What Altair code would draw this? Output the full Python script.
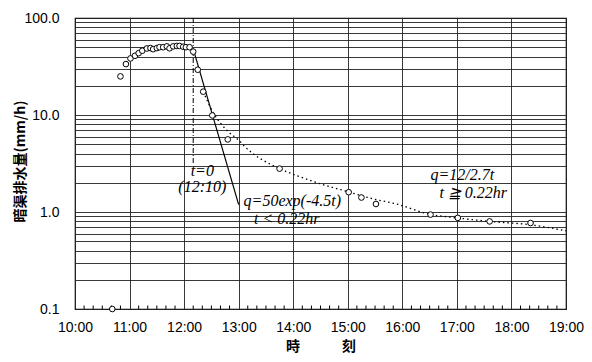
import altair as alt
import pandas as pd

# observed drainage (time, mm/h)
obs_time = ["10:41", "10:50", "10:56", "11:01", "11:06", "11:10", "11:14", "11:19",
            "11:23", "11:26", "11:30", "11:33", "11:37", "11:41", "11:44", "11:48",
            "11:52", "11:55", "11:59", "12:02", "12:06", "12:10", "12:15", "12:21",
            "12:31", "12:48", "13:45", "15:01", "15:15", "15:31", "16:31", "17:01",
            "17:36", "18:21"]
obs_q = [0.1, 25, 33.5, 38.3, 40.8, 43.4, 46, 48.5,
         49, 47.7, 49, 50, 50, 51, 48.7, 51,
         51.5, 51.5, 50.5, 50, 50, 45, 29.3, 17.4,
         9.9, 5.6, 2.8, 1.6, 1.41, 1.21, 0.94, 0.87,
         0.80, 0.77]

# fitted curve q=50exp(-4.5t) (read at its ends)
exp_time = ["12:10", "13:00"]
exp_q = [48, 1.19]

# fitted curve q=12/2.7t
pow_time = ["12:21", "12:31", "12:48", "13:00", "13:06", "13:45", "14:00", "14:30",
            "15:00", "15:30", "15:52", "16:30", "17:00", "17:36", "18:20", "19:00"]
pow_q = [17.4, 11, 6.8, 5.5, 4.8, 2.8, 2.45, 1.95,
         1.62, 1.35, 1.22, 0.95, 0.87, 0.80, 0.74, 0.64]

# t=0 marker
t0_time = ["12:10"]
t0_top = [100]
t0_bottom = [3.2]

# annotations
ann_text = ["t=0", "(12:10)", "q=50exp(-4.5t)", "t < 0.22hr", "q=12/2.7t", "t ≧ 0.22hr"]
ann_time = ["12:20", "12:20", "13:59", "13:53", "17:06", "17:18"]
ann_q = [2.67, 1.79, 1.31, 0.85, 2.41, 1.56]

hour_ticks = list(range(10, 20))
minor_ticks = [h + m / 60 for h in range(10, 19) for m in (10, 20, 30, 40, 50)]
y_ticks = [round(m * 10 ** e, 3) for e in (-1, 0, 1) for m in range(1, 10)] + [100]


def hrs(s):
    h, m = s.split(":")
    return int(h) + int(m) / 60


obs = pd.DataFrame({"t": [hrs(s) for s in obs_time], "q": obs_q})
expd = pd.DataFrame({"t": [hrs(s) for s in exp_time], "q": exp_q})
powd = pd.DataFrame({"t": [hrs(s) for s in pow_time], "q": pow_q})
t0 = pd.DataFrame({"t": [hrs(s) for s in t0_time], "q": t0_top, "q2": t0_bottom})
ann = pd.DataFrame({"t": [hrs(s) for s in ann_time], "q": ann_q, "label": ann_text})
ticks = pd.DataFrame({"t": minor_ticks})

W, H = 491, 291

x_enc = alt.X(
    "t:Q",
    scale=alt.Scale(domain=[10, 19], nice=False, zero=False),
    axis=alt.Axis(values=hour_ticks, labelExpr="datum.value + ':00'", title="時　　　刻",
                  grid=True, ticks=False, domain=False, labelPadding=11,
                  titleY=37, titleBaseline="middle", labelFlush=False),
)
y_enc = alt.Y(
    "q:Q",
    scale=alt.Scale(type="log", domain=[0.1, 100], nice=False),
    axis=alt.Axis(values=y_ticks,
                  labelExpr="datum.value == 0.1 ? '0.1' : (datum.value == 1 || datum.value == 10 || datum.value == 100) ? format(datum.value, '.1f') : ''",
                  title="暗渠排水量(mm/h)", grid=True, ticks=False, domain=False,
                  labelPadding=16, labelOverlap=False, labelFlush=False,
                  titleX=-55, titleY=143, titleAlign="center", titleBaseline="middle",
                  titleAngle=270),
)

minor = alt.Chart(ticks).mark_rule(color="black", strokeWidth=1).encode(
    x=x_enc, y=alt.value(H), y2=alt.value(H - 3.5))

t0_rule = alt.Chart(t0).mark_rule(color="black", strokeWidth=1, strokeDash=[5, 2, 1, 2]).encode(
    x=x_enc, y=y_enc, y2="q2:Q")

exp_line = alt.Chart(expd).mark_line(color="black", strokeWidth=1.2).encode(x=x_enc, y=y_enc)

pow_line = alt.Chart(powd).mark_line(color="black", strokeWidth=1.3, strokeDash=[1.5, 3],
                                     interpolate="monotone").encode(x=x_enc, y=y_enc)

pts = alt.Chart(obs).mark_point(shape="circle", size=32, filled=False, color="black",
                                fill="white", fillOpacity=1, strokeWidth=1,
                                opacity=1).encode(x=x_enc, y=y_enc)

txt = alt.Chart(ann).mark_text(font="Liberation Serif", fontStyle="italic", fontSize=16,
                               color="black", align="center", baseline="middle").encode(
    x=x_enc, y=y_enc, text="label:N")

chart = alt.layer(minor, t0_rule, exp_line, pow_line, pts, txt).properties(
    width=W, height=H,
    padding={"left": 67, "top": 10, "right": 18, "bottom": 45},
    autosize=alt.AutoSizeParams(type="none"),
    background="white",
).configure_view(stroke="black", strokeWidth=1.2).configure_axis(
    gridColor="#222", gridWidth=0.9, gridOpacity=1,
    labelFont="Liberation Sans", labelFontSize=14, labelColor="black",
    titleFont="Noto Sans CJK JP", titleFontSize=14, titleFontWeight="bold", titleColor="black",
)

chart.save("out.html", embed_options={"renderer": "svg", "actions": False})
